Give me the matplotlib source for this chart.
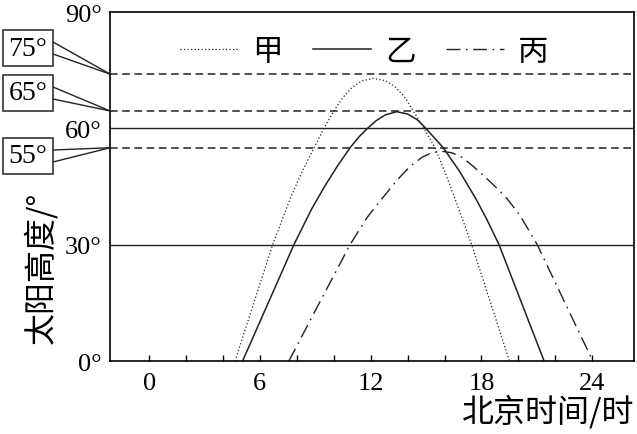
import matplotlib
matplotlib.use('Agg')
import matplotlib.pyplot as plt
from matplotlib.lines import Line2D

plt.rcParams['font.family'] = ['Liberation Serif', 'DejaVu Serif']
cjk = ['Noto Sans CJK SC', 'DejaVu Sans']

# 甲 (dotted)
jia_h = [4.65, 5.67, 6.69, 7.63, 8.3, 8.93, 9.47, 10.0, 10.5, 11.0, 11.5, 12.14,
         12.8, 13.3, 13.8, 14.2, 14.89, 15.48, 16.0, 16.57, 17.47, 18.49, 19.51]
jia_d = [0, 15, 30, 41.8, 49, 55, 60, 64.5, 68.0, 70.6, 72.2, 72.9,
         72.3, 70.8, 68.3, 65.3, 60, 55, 49, 41.8, 30, 15, 0]
# 乙 (solid)
yi_h = [5.06, 6.45, 7.84, 8.8, 9.5, 10.2, 10.88, 11.4, 11.87, 12.3, 12.8, 13.41,
        14.0, 14.5, 14.89, 15.4, 15.93, 16.8, 17.7, 18.28, 18.95, 20.17, 21.39]
yi_d = [0, 15, 30, 39.2, 45, 50.3, 55, 58, 60.2, 62, 63.5, 64.3,
        63.7, 62.3, 60.5, 57.8, 55, 49, 41.8, 36.6, 30, 15, 0]
# 丙 (dash-dot)
bing_h = [7.57, 9.22, 10.88, 11.8, 12.6, 13.4, 14.13, 14.8, 15.3, 15.84, 16.4,
          17.0, 17.6, 18.3, 19.0, 19.4, 20.09, 21.02, 22.52, 24.03]
bing_d = [0, 15, 30, 37, 41.8, 46.5, 50.2, 52.6, 53.7, 54.1, 53.7,
          52.4, 50.0, 47.0, 43.8, 41.8, 37.5, 30, 15, 0]

ref_dashed = [74, 64.5, 55]
ref_labels = ['75°', '65°', '55°']
ref_solid = [60, 30]

xticks = [0, 6, 12, 18, 24]
yticks = [0, 30, 60, 90]
ytick_labels = ['0°', '30°', '60°', '90°']

fig = plt.figure(figsize=(6.37, 4.35), dpi=100)
ax = fig.add_axes([0.1727, 0.1678, 0.8226, 0.8022])
ax.set_xlim(-2.12, 26.26)
ax.set_ylim(0, 90)

for v in ref_dashed:
    ax.axhline(v, color='#222222', lw=1.1, linestyle=(0, (5, 3)))
for v in ref_solid:
    ax.axhline(v, color='#222222', lw=1.0)

ax.plot(jia_h, jia_d, color='#222222', lw=0.9, linestyle=(0, (1, 1.8)), label='甲')
ax.plot(yi_h, yi_d, color='#222222', lw=1.1, label='乙')
ax.plot(bing_h, bing_d, color='#222222', lw=1.0, linestyle=(0, (10, 4, 1.2, 4)), label='丙')

ax.set_xticks(xticks)
ax.set_xticks(range(0, 26, 2), minor=True)
ax.tick_params(axis='x', which='both', direction='in', length=4, width=1, pad=8, labelsize=19)
ax.set_yticks(yticks)
ax.set_yticklabels(ytick_labels)
ax.tick_params(axis='y', length=0, pad=6, labelsize=19)
for s in ax.spines.values():
    s.set_linewidth(1.2)

ax.set_xlabel('北京时间/时', family=cjk, fontsize=23, loc='right', labelpad=0)
fig.text(40 / 637, 1 - 268 / 435, '太阳高度/°', family=cjk, fontsize=23,
         rotation=90, ha='center', va='center')

ax.legend(loc='center', bbox_to_anchor=(0.485, 0.888), ncol=3, frameon=False,
          prop={'family': cjk, 'size': 22}, handlelength=1.9,
          handletextpad=0.45, columnspacing=1.0)

# callout boxes on the left
fig.canvas.draw()
box_centers = [(28, 49), (28, 94), (28, 157)]
inv = fig.transFigure.inverted()
for v, lab, (bx, by) in zip(ref_dashed, ref_labels, box_centers):
    fig.text(bx / 637, 1 - by / 435, lab, fontsize=20, ha='center', va='center',
             bbox=dict(boxstyle='square,pad=0.2', fc='white', ec='#222222', lw=1.1))
    tip = inv.transform(ax.transData.transform((-2.12, v)))
    for dy in (-6, 6):
        p = (53 / 637, 1 - (by + dy) / 435)
        fig.add_artist(Line2D([p[0], tip[0]], [p[1], tip[1]], color='#222222', lw=1.0))

fig.savefig('out.png', dpi=100)
